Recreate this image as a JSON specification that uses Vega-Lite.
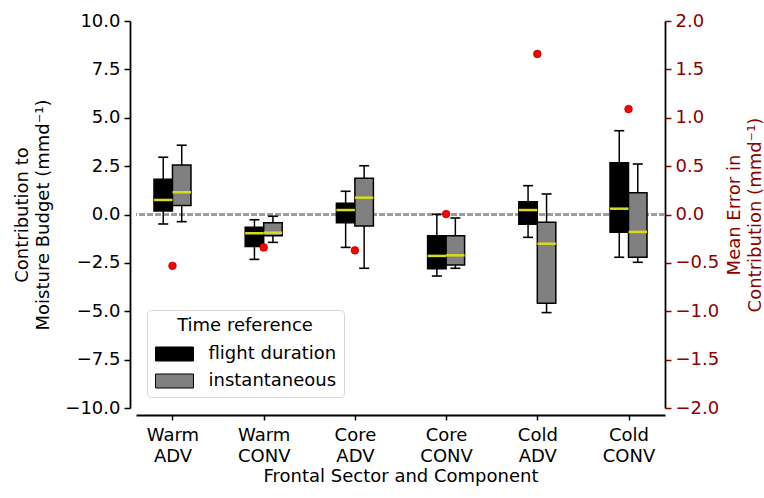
{
  "$schema": "https://vega.github.io/schema/vega-lite/v6.json",
  "autosize": "none",
  "width": 529,
  "height": 387,
  "padding": {"left": 136, "top": 21, "right": 99, "bottom": 90},
  "background": "white",
  "config": {
    "view": {"stroke": null},
    "font": "DejaVu Sans",
    "axis": {
      "labelFont": "DejaVu Sans", "titleFont": "DejaVu Sans",
      "labelFontSize": 18, "titleFontSize": 18, "titleFontWeight": "normal",
      "labelColor": "#000", "titleColor": "#000", "grid": false,
      "domainColor": "#000", "domainWidth": 1.8, "tickColor": "#000",
      "tickWidth": 1.5, "tickSize": 6, "labelPadding": 4, "titleLineHeight": 21
    },
    "legend": {
      "orient": "bottom-left", "offset": 11, "padding": 7,
      "strokeColor": "#d6d6d6", "fillColor": "rgba(255,255,255,0.85)", "cornerRadius": 4,
      "titleFont": "DejaVu Sans", "labelFont": "DejaVu Sans",
      "titleFontSize": 18, "titleFontWeight": "normal", "titleColor": "#000",
      "labelFontSize": 18, "labelColor": "#000", "titleAnchor": "middle",
      "titlePadding": 10, "rowPadding": 9, "labelOffset": 25, "symbolOffset": 11.5,
      "symbolType": "M-2.71,-1L2.71,-1L2.71,1L-2.71,1Z", "symbolSize": 196,
      "symbolStrokeColor": "#000", "symbolStrokeWidth": 1
    }
  },
  "datasets": {
    "boxes": [
      {"sector": "Warm ADV", "ref": "flight duration", "lower": -0.49, "q1": 0.18, "median": 0.75, "q3": 1.82, "upper": 2.96},
      {"sector": "Warm ADV", "ref": "instantaneous", "lower": -0.37, "q1": 0.47, "median": 1.15, "q3": 2.56, "upper": 3.58},
      {"sector": "Warm CONV", "ref": "flight duration", "lower": -2.32, "q1": -1.66, "median": -0.97, "q3": -0.66, "upper": -0.27},
      {"sector": "Warm CONV", "ref": "instantaneous", "lower": -1.44, "q1": -1.10, "median": -0.94, "q3": -0.42, "upper": -0.09},
      {"sector": "Core ADV", "ref": "flight duration", "lower": -1.70, "q1": -0.42, "median": 0.23, "q3": 0.58, "upper": 1.20},
      {"sector": "Core ADV", "ref": "instantaneous", "lower": -2.78, "q1": -0.59, "median": 0.87, "q3": 1.87, "upper": 2.52},
      {"sector": "Core CONV", "ref": "flight duration", "lower": -3.18, "q1": -2.80, "median": -2.14, "q3": -1.10, "upper": 0.01},
      {"sector": "Core CONV", "ref": "instantaneous", "lower": -2.78, "q1": -2.61, "median": -2.11, "q3": -1.10, "upper": -0.18},
      {"sector": "Cold ADV", "ref": "flight duration", "lower": -1.18, "q1": -0.51, "median": 0.23, "q3": 0.66, "upper": 1.49},
      {"sector": "Cold ADV", "ref": "instantaneous", "lower": -5.07, "q1": -4.59, "median": -1.51, "q3": -0.40, "upper": 1.06},
      {"sector": "Cold CONV", "ref": "flight duration", "lower": -2.21, "q1": -0.92, "median": 0.30, "q3": 2.68, "upper": 4.33},
      {"sector": "Cold CONV", "ref": "instantaneous", "lower": -2.47, "q1": -2.21, "median": -0.90, "q3": 1.13, "upper": 2.61}
    ],
    "errors": [
      {"sector": "Warm ADV", "err": -0.53},
      {"sector": "Warm CONV", "err": -0.34},
      {"sector": "Core ADV", "err": -0.37},
      {"sector": "Core CONV", "err": 0.005},
      {"sector": "Cold ADV", "err": 1.66},
      {"sector": "Cold CONV", "err": 1.09}
    ]
  },
  "layer": [
    {
      "data": {"name": "boxes"},
      "layer": [
        {
          "mark": {"type": "rule", "color": "#9a9a9a", "strokeWidth": 1.4, "strokeDash": [5.5, 2.5]},
          "encoding": {
            "y": {"datum": 0, "type": "quantitative", "scale": {"domain": [-10, 10]},
              "axis": {"values": [-10, -7.5, -5, -2.5, 0, 2.5, 5, 7.5, 10], "format": ".1f", "offset": 6, "titlePadding": 12},
              "title": ["Contribution to", "Moisture Budget (mmd⁻¹)"]}
          }
        },
        {
          "mark": {"type": "rule", "color": "#000", "strokeWidth": 1.5},
          "encoding": {
            "x": {"field": "sector", "type": "nominal", "sort": ["Warm ADV", "Warm CONV", "Core ADV", "Core CONV", "Cold ADV", "Cold CONV"], "scale": {"type": "point", "padding": 0.4},
              "axis": {"labelExpr": "split(datum.label, ' ')", "labelAngle": 0, "offset": 7, "tickSize": 5, "labelPadding": 6, "labelLineHeight": 21, "titlePadding": 2, "labelBaseline": "top"},
              "title": "Frontal Sector and Component"},
            "xOffset": {"field": "ref", "type": "nominal", "scale": {"domain": ["flight duration", "instantaneous"], "range": [-18.5, 18.5], "paddingInner": 0, "paddingOuter": 0}},
            "y": {"field": "lower", "type": "quantitative", "scale": {"domain": [-10, 10]},
              "axis": {"values": [-10, -7.5, -5, -2.5, 0, 2.5, 5, 7.5, 10], "format": ".1f", "offset": 6, "titlePadding": 12},
              "title": ["Contribution to", "Moisture Budget (mmd⁻¹)"]},
            "y2": {"field": "upper"}
          }
        },
        {
          "mark": {"type": "bar", "stroke": "#000", "strokeWidth": 1.5},
          "encoding": {
            "x": {"field": "sector", "type": "nominal", "sort": ["Warm ADV", "Warm CONV", "Core ADV", "Core CONV", "Cold ADV", "Cold CONV"], "scale": {"type": "point", "padding": 0.4},
              "axis": {"labelExpr": "split(datum.label, ' ')", "labelAngle": 0, "offset": 7, "tickSize": 5, "labelPadding": 6, "labelLineHeight": 21, "titlePadding": 2, "labelBaseline": "top"},
              "title": "Frontal Sector and Component"},
            "xOffset": {"field": "ref", "type": "nominal", "scale": {"domain": ["flight duration", "instantaneous"], "range": [-18.5, 18.5], "paddingInner": 0, "paddingOuter": 0}},
            "y": {"field": "q1", "type": "quantitative", "scale": {"domain": [-10, 10]},
              "axis": {"values": [-10, -7.5, -5, -2.5, 0, 2.5, 5, 7.5, 10], "format": ".1f", "offset": 6, "titlePadding": 12},
              "title": ["Contribution to", "Moisture Budget (mmd⁻¹)"]},
            "y2": {"field": "q3"},
            "color": {"field": "ref", "type": "nominal", "scale": {"domain": ["flight duration", "instantaneous"], "range": ["#000000", "#808080"]}, "title": "Time reference"}
          }
        },
        {
          "mark": {"type": "tick", "color": "#dada1c", "thickness": 2.5, "size": 18.5, "opacity": 1},
          "encoding": {
            "x": {"field": "sector", "type": "nominal", "sort": ["Warm ADV", "Warm CONV", "Core ADV", "Core CONV", "Cold ADV", "Cold CONV"], "scale": {"type": "point", "padding": 0.4},
              "axis": {"labelExpr": "split(datum.label, ' ')", "labelAngle": 0, "offset": 7, "tickSize": 5, "labelPadding": 6, "labelLineHeight": 21, "titlePadding": 2, "labelBaseline": "top"},
              "title": "Frontal Sector and Component"},
            "xOffset": {"field": "ref", "type": "nominal", "scale": {"domain": ["flight duration", "instantaneous"], "range": [-18.5, 18.5], "paddingInner": 0, "paddingOuter": 0}},
            "y": {"field": "median", "type": "quantitative", "scale": {"domain": [-10, 10]},
              "axis": {"values": [-10, -7.5, -5, -2.5, 0, 2.5, 5, 7.5, 10], "format": ".1f", "offset": 6, "titlePadding": 12},
              "title": ["Contribution to", "Moisture Budget (mmd⁻¹)"]}
          }
        },
        {
          "mark": {"type": "tick", "color": "#000", "thickness": 1.6, "size": 10, "opacity": 1},
          "encoding": {
            "x": {"field": "sector", "type": "nominal", "sort": ["Warm ADV", "Warm CONV", "Core ADV", "Core CONV", "Cold ADV", "Cold CONV"], "scale": {"type": "point", "padding": 0.4},
              "axis": {"labelExpr": "split(datum.label, ' ')", "labelAngle": 0, "offset": 7, "tickSize": 5, "labelPadding": 6, "labelLineHeight": 21, "titlePadding": 2, "labelBaseline": "top"},
              "title": "Frontal Sector and Component"},
            "xOffset": {"field": "ref", "type": "nominal", "scale": {"domain": ["flight duration", "instantaneous"], "range": [-18.5, 18.5], "paddingInner": 0, "paddingOuter": 0}},
            "y": {"field": "lower", "type": "quantitative", "scale": {"domain": [-10, 10]},
              "axis": {"values": [-10, -7.5, -5, -2.5, 0, 2.5, 5, 7.5, 10], "format": ".1f", "offset": 6, "titlePadding": 12},
              "title": ["Contribution to", "Moisture Budget (mmd⁻¹)"]}
          }
        },
        {
          "mark": {"type": "tick", "color": "#000", "thickness": 1.6, "size": 10, "opacity": 1},
          "encoding": {
            "x": {"field": "sector", "type": "nominal", "sort": ["Warm ADV", "Warm CONV", "Core ADV", "Core CONV", "Cold ADV", "Cold CONV"], "scale": {"type": "point", "padding": 0.4},
              "axis": {"labelExpr": "split(datum.label, ' ')", "labelAngle": 0, "offset": 7, "tickSize": 5, "labelPadding": 6, "labelLineHeight": 21, "titlePadding": 2, "labelBaseline": "top"},
              "title": "Frontal Sector and Component"},
            "xOffset": {"field": "ref", "type": "nominal", "scale": {"domain": ["flight duration", "instantaneous"], "range": [-18.5, 18.5], "paddingInner": 0, "paddingOuter": 0}},
            "y": {"field": "upper", "type": "quantitative", "scale": {"domain": [-10, 10]},
              "axis": {"values": [-10, -7.5, -5, -2.5, 0, 2.5, 5, 7.5, 10], "format": ".1f", "offset": 6, "titlePadding": 12},
              "title": ["Contribution to", "Moisture Budget (mmd⁻¹)"]}
          }
        }
      ]
    },
    {
      "data": {"name": "errors"},
      "mark": {"type": "circle", "color": "#ff0000", "stroke": "#a00000", "strokeWidth": 0.6, "size": 60, "opacity": 1},
      "encoding": {
        "x": {"field": "sector", "type": "nominal", "sort": ["Warm ADV", "Warm CONV", "Core ADV", "Core CONV", "Cold ADV", "Cold CONV"], "scale": {"type": "point", "padding": 0.4},
          "axis": {"labelExpr": "split(datum.label, ' ')", "labelAngle": 0, "offset": 7, "tickSize": 5, "labelPadding": 6, "labelLineHeight": 21, "titlePadding": 2, "labelBaseline": "top"},
          "title": "Frontal Sector and Component"},
        "y": {"field": "err", "type": "quantitative", "scale": {"domain": [-2, 2]},
          "axis": {"orient": "right", "values": [-2, -1.5, -1, -0.5, 0, 0.5, 1, 1.5, 2], "format": ".1f", "titleAngle": 270, "titlePadding": 4,
            "labelColor": "#8b0000", "tickColor": "#8b0000", "titleColor": "#8b0000", "domainColor": "#000"},
          "title": ["Mean Error in", "Contribution (mmd⁻¹)"]}
      }
    }
  ],
  "resolve": {"scale": {"y": "independent"}, "axis": {"y": "independent"}}
}
